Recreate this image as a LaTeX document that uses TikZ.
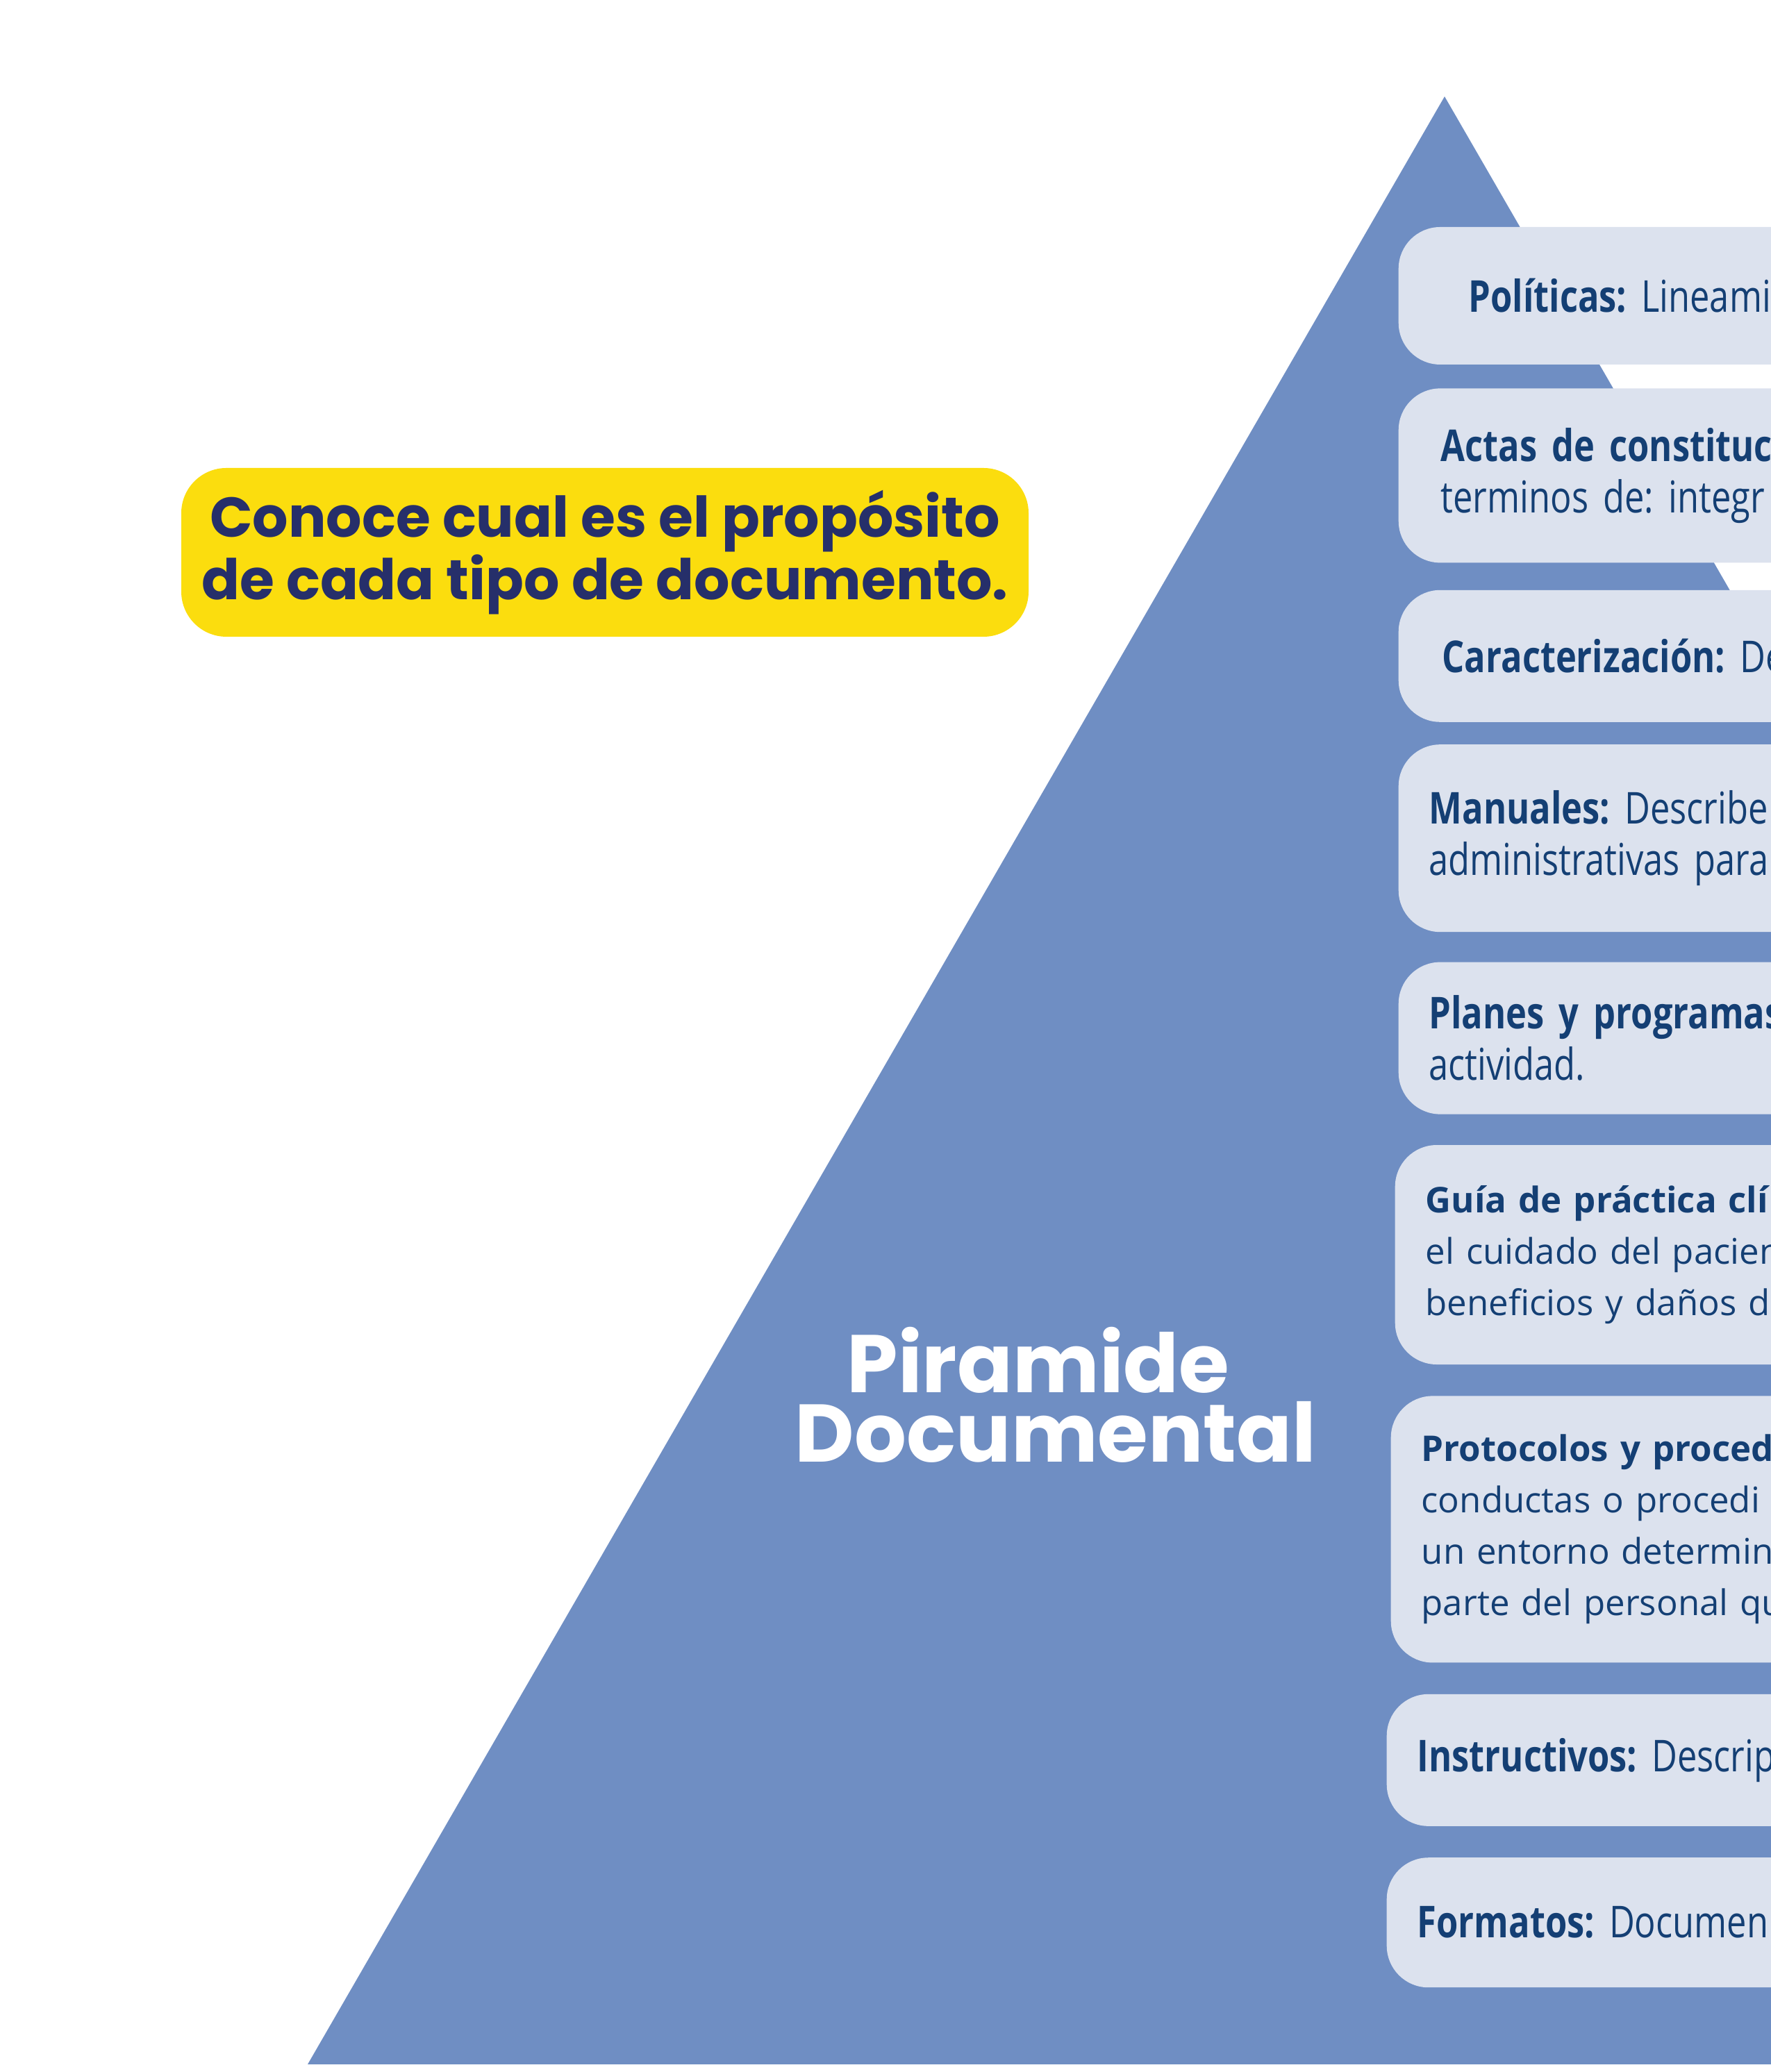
\documentclass[tikz,border=0pt]{standalone}
\usepackage{fontspec}
\setmainfont{Open Sans}
\newfontfamily\narrowsans[FakeStretch=0.8, WordSpace=0.8]{Open Sans}
\newfontfamily\headfont{Poppins}
\usetikzlibrary{positioning}
\definecolor{pyrblue}{HTML}{6F8EC3}
\definecolor{boxgray}{HTML}{DCE2EE}
\definecolor{docblue}{HTML}{143F74}
\definecolor{tagyellow}{HTML}{FBDD0E}
\definecolor{tagnavy}{HTML}{262F6A}
\frenchspacing

\begin{document}
\begin{tikzpicture}[
    docbox/.style={
        rectangle, rounded corners=0.6cm, fill=boxgray,
        text=docblue, align=left, text width=6cm,
        inner ysep=0pt, inner xsep=#1,
        font=\narrowsans\fontsize{18}{21}\selectfont
    },
    docbox/.default=0.44cm,
    widetext/.style={font=\fontsize{14.5}{21}\selectfont},
    tag/.style={
        rectangle, rounded corners=0.65cm, fill=tagyellow,
        minimum width=12.2cm, minimum height=2.43cm,
        font=\headfont\bfseries\fontsize{23}{23}\selectfont,
        text=tagnavy, align=center
    },
    title/.style={font=\headfont\bfseries\fontsize{33.5}{28.5}\selectfont, text=white, align=center}
]
\useasboundingbox (0,0) rectangle (25.5,29.84);
\clip (0,0) rectangle (25.5,29.84);

% Pyramid
\fill[pyrblue] (20.80,28.45) -- (4.43,0.11) -- (37.17,0.11) -- cycle;

% Call-out and title
\node[tag] (intro) at (8.71,21.885) {Conoce cual es el propósito\\ de cada tipo de documento.};
\node[title] (pyrtitle) at (15.2,9.75) {Piramide\hspace*{0.5cm}\\Documental};

% Document levels
\node[docbox=1.01cm, anchor=west, minimum height=1.98cm] (polit) at (20.13,25.58)
    {\textbf{Políticas:} Lineami};
\node[docbox=0.61cm, minimum height=2.51cm, below=0.33cm of polit.south west, anchor=north west] (actas)
    {\textbf{Actas de constituci}\\terminos de: integr};
\node[docbox=0.63cm, minimum height=1.90cm, below=0.38cm of actas.south west, anchor=north west] (caract)
    {\textbf{Caracterización:} De};
\node[docbox, minimum height=2.70cm, below=0.31cm of caract.south west, anchor=north west] (manual)
    {\textbf{Manuales:} Describe\\administrativas para};
\node[docbox, minimum height=2.19cm, below=0.42cm of manual.south west, anchor=north west] (planes)
    {\textbf{Planes y programas}\\actividad.};
\node[docbox, widetext, minimum height=3.16cm, below=0.43cm of planes.south west, anchor=north west, xshift=-0.05cm] (guia)
    {\textbf{Guía de práctica clí}\\el cuidado del pacien\\beneficios y daños d};
\node[docbox, widetext, minimum height=3.84cm, below=0.44cm of guia.south west, anchor=north west, xshift=-0.06cm] (protoc)
    {\textbf{Protocolos y proced}\\conductas o procedi\\un entorno determin\\parte del personal qu};
\node[docbox, minimum height=1.90cm, below=0.44cm of protoc.south west, anchor=north west, xshift=-0.06cm] (instr)
    {\textbf{Instructivos:} Descrip};
\node[docbox, minimum height=1.87cm, below=0.44cm of instr.south west, anchor=north west] (format)
    {\textbf{Formatos:} Documen};

\end{tikzpicture}
\end{document}
